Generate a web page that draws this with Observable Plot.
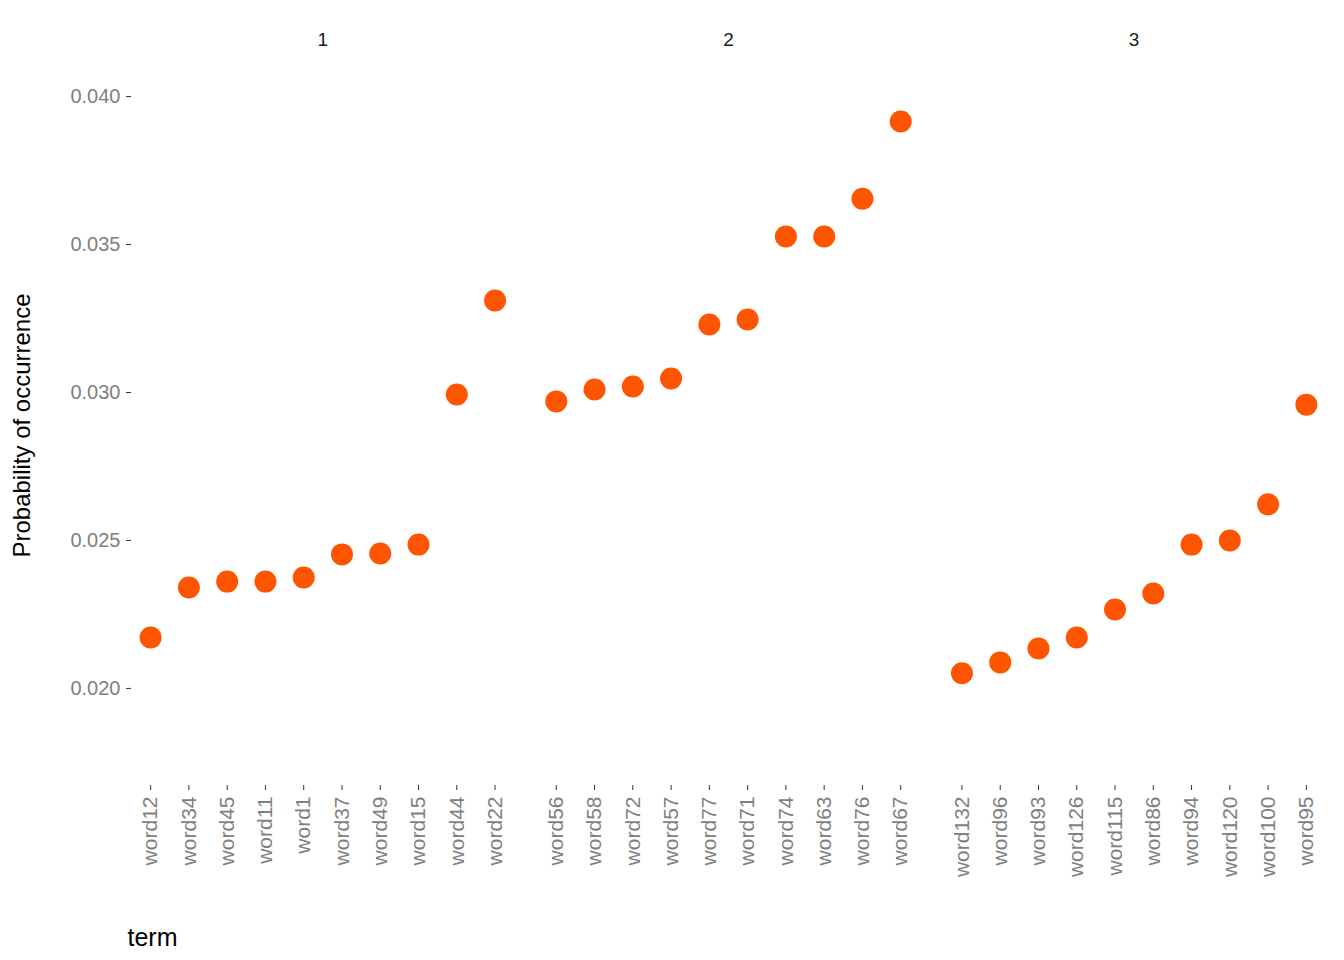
<!DOCTYPE html>
<html><head><meta charset="utf-8">
<script src="https://cdn.jsdelivr.net/npm/d3@7"></script>
<script src="https://cdn.jsdelivr.net/npm/@observablehq/plot@0.6"></script>
<style>body{margin:0;background:#fff;font-family:"Liberation Sans",Arial,sans-serif}</style>
</head><body><div id="c"></div>
<script>
const topics = [1, 2, 3];
const terms1 = ["word12","word34","word45","word11","word1","word37","word49","word15","word44","word22"];
const beta1 = [0.02172,0.02341,0.02361,0.02361,0.02375,0.02453,0.02456,0.02486,0.02993,0.03311];
const terms2 = ["word56","word58","word72","word57","word77","word71","word74","word63","word76","word67"];
const beta2 = [0.02970,0.03010,0.03020,0.03047,0.03230,0.03247,0.03527,0.03527,0.03655,0.03916];
const terms3 = ["word132","word96","word93","word126","word115","word86","word94","word120","word100","word95"];
const beta3 = [0.02051,0.02088,0.02135,0.02172,0.02267,0.02321,0.02486,0.02500,0.02622,0.02959];
const yTicks = [0.020,0.025,0.030,0.035,0.040];

const groups = [[terms1,beta1],[terms2,beta2],[terms3,beta3]];
const gap = 0.6;
const data = [];
groups.forEach(([t,b],p)=>t.forEach((term,i)=>data.push({topic:topics[p],term,beta:b[i],x:i+p*(10+gap)})));
const labels = topics.map((tp,p)=>({topic:String(tp),x:4.5+p*(10+gap)}));
const tickMap = new Map(data.map(d=>[d.x,d.term]));

const plot = Plot.plot({
  width:1344,height:960,marginLeft:131,marginRight:19,marginTop:65,marginBottom:175,
  style:{fontFamily:"Liberation Sans, Arial, sans-serif",background:"#fff"},
  x:{domain:[-0.5,30.7],axis:null},
  y:{domain:[0.01672,0.04105],axis:null},
  marks:[
    Plot.axisY({ticks:yTicks,tickFormat:d3.format(".3f"),tickSize:5,tickPadding:6,fontSize:20,color:"#7f7f7f",stroke:"#333",label:null}),
    Plot.axisX({ticks:data.map(d=>d.x),tickFormat:d=>tickMap.get(d),tickRotate:-90,tickSize:5,tickPadding:6,fontSize:21,color:"#7f7f7f",stroke:"#333",label:null}),
    Plot.text(labels,{x:"x",text:"topic",frameAnchor:"top",dy:-33,fontSize:19,fill:"#1a1a1a"}),
    Plot.dot(data,{x:"x",y:"beta",r:11,fill:"#ff5500",stroke:"none"}),
    Plot.text(["term"],{frameAnchor:"bottom-left",dx:-4,dy:160,fontSize:25,fill:"#000"}),
    Plot.text(["Probability of occurrence"],{frameAnchor:"left",textAnchor:"middle",dx:-109,rotate:-90,fontSize:24,fill:"#000"})
  ]
});
document.getElementById("c").appendChild(plot);
</script></body></html>
